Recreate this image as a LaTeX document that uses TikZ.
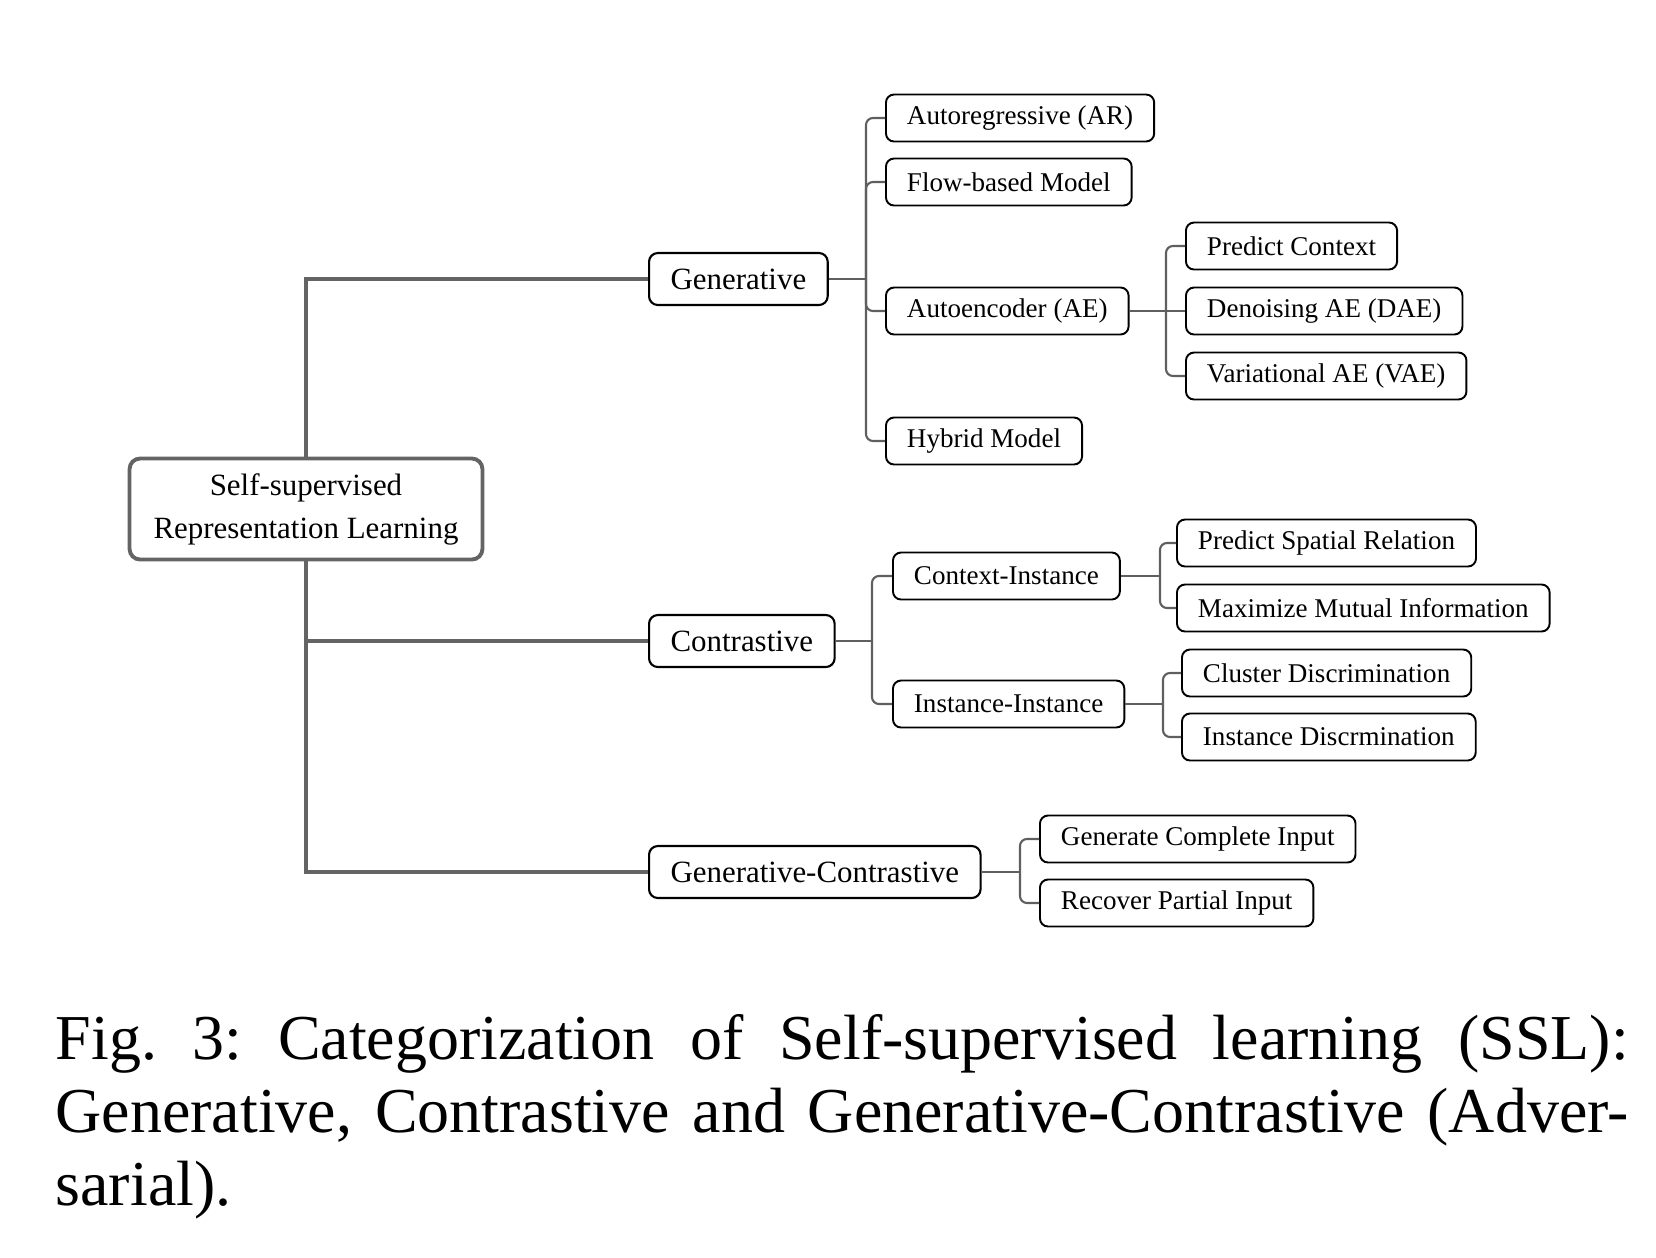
\documentclass[tikz,border=0pt]{standalone}
\usepackage{fontspec}
\setmainfont{Liberation Serif}
\usepackage{tikz}
\usetikzlibrary{positioning, calc}

\begin{document}
\begin{tikzpicture}[
	leaf/.style={draw=black, line width=0.55pt, rounded corners=2.3pt, inner xsep=0.21cm, inner ysep=0pt, minimum height=0.47cm, anchor=west, font=\fontsize{7.7}{9}\selectfont},
	cat/.style={draw=black, line width=0.6pt, rounded corners=2.5pt, inner xsep=0.215cm, inner ysep=0pt, minimum height=0.52cm, anchor=west, font=\fontsize{8.8}{10.5}\selectfont},
	rootbox/.style={draw=trunkgray, line width=1.1pt, rounded corners=3pt, inner xsep=0.24cm, minimum height=1.01cm, align=center, font=\fontsize{8.8}{12.2}\selectfont},
	trunk/.style={draw=trunkgray, line width=1.1pt},
	bus/.style={draw=busgray, line width=0.6pt, rounded corners=0.07cm}]
	
	% colours
	\definecolor{trunkgray}{RGB}{100,100,100}
	\definecolor{busgray}{RGB}{95,95,95}
	
	\useasboundingbox (0,0) rectangle (16.56,-12.58);
	
	% root
	\node[rootbox] (ssl) at (3.06,-5.09) {Self-supervised\\Representation Learning};
	
	% three families
	\node[cat] (gen) at (6.48,-2.79) {Generative};
	\node[cat] (con) at (6.48,-6.41) {Contrastive};
	\node[cat] (gc) at (6.48,-8.72) {Generative-Contrastive};
	
	\draw[trunk] (ssl.north) |- (gen.west);
	\draw[trunk] (ssl.south) |- (gc.west);
	\draw[trunk] (ssl.south |- con.west) -- (con.west);
	
	% generative branch
	\node[leaf] (ar) at (8.85,-1.18) {Autoregressive (AR)};
	\node[leaf] (flow) at (8.85,-1.82) {Flow-based Model};
	\node[leaf] (ae) at (8.85,-3.11) {Autoencoder (AE)};
	\node[leaf] (hyb) at (8.85,-4.41) {Hybrid Model};
	\coordinate (genj) at (8.66,-2.79);
	\draw[bus] (gen.east) -- (genj);
	\draw[bus] (genj) |- (ar.west);
	\draw[bus] (genj) |- (flow.west);
	\draw[bus] (genj) |- (ae.west);
	\draw[bus] (genj) |- (hyb.west);
	
	\node[leaf] (pc) at (11.85,-2.46) {Predict Context};
	\node[leaf] (dae) at (11.85,-3.11) {Denoising AE (DAE)};
	\node[leaf] (vae) at (11.85,-3.76) {Variational AE (VAE)};
	\coordinate (aej) at (11.66,-3.11);
	\draw[bus] (ae.east) -- (aej);
	\draw[bus] (aej) |- (pc.west);
	\draw[bus] (aej) -- (dae.west);
	\draw[bus] (aej) |- (vae.west);
	
	% contrastive branch
	\node[leaf] (ci) at (8.92,-5.76) {Context-Instance};
	\node[leaf] (ii) at (8.92,-7.04) {Instance-Instance};
	\coordinate (conj) at (8.72,-6.41);
	\draw[bus] (con.east) -- (conj);
	\draw[bus] (conj) |- (ci.west);
	\draw[bus] (conj) |- (ii.west);
	
	\node[leaf] (psr) at (11.76,-5.43) {Predict Spatial Relation};
	\node[leaf] (mmi) at (11.76,-6.08) {Maximize Mutual Information};
	\coordinate (cij) at (11.60,-5.76);
	\draw[bus] (ci.east) -- (cij);
	\draw[bus] (cij) |- (psr.west);
	\draw[bus] (cij) |- (mmi.west);
	
	\node[leaf] (cd) at (11.81,-6.73) {Cluster Discrimination};
	\node[leaf] (idis) at (11.81,-7.37) {Instance Discrmination};
	\coordinate (iij) at (11.63,-7.04);
	\draw[bus] (ii.east) -- (iij);
	\draw[bus] (iij) |- (cd.west);
	\draw[bus] (iij) |- (idis.west);
	
	% generative-contrastive branch
	\node[leaf] (gci) at (10.39,-8.39) {Generate Complete Input};
	\node[leaf] (rpi) at (10.39,-9.03) {Recover Partial Input};
	\coordinate (gcj) at (10.20,-8.72);
	\draw[bus] (gc.east) -- (gcj);
	\draw[bus] (gcj) |- (gci.west);
	\draw[bus] (gcj) |- (rpi.west);
	
	% caption
	\node[anchor=base west, inner sep=0pt, text width=15.73cm, align=justify, font=\fontsize{18.2}{20.8}\selectfont\frenchspacing] (cap) at (0.55,-10.59)
		{Fig.~3: Categorization of Self-supervised learning (SSL):\linebreak Generative, Contrastive and Generative-Contrastive (Adver-\linebreak sarial).};
	
\end{tikzpicture}
\end{document}
